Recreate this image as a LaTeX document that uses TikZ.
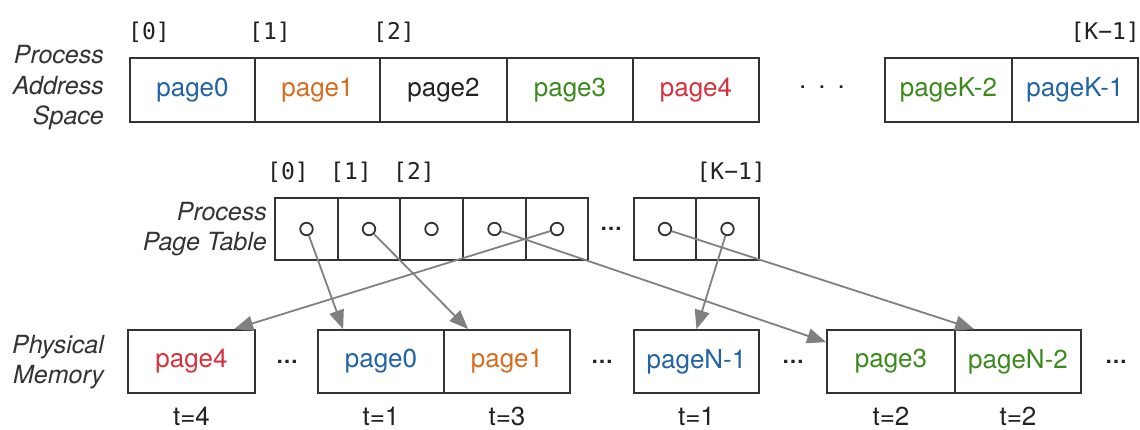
\documentclass[tikz,border=0pt]{standalone}
\usepackage{fontspec}
\setmainfont{TeX Gyre Heros}
\newfontfamily\monof{DejaVu Sans Mono}
\usetikzlibrary{arrows.meta}
\definecolor{pblue}{RGB}{33,99,165}
\definecolor{porange}{RGB}{214,108,32}
\definecolor{pred}{RGB}{214,50,62}
\definecolor{pgreen}{RGB}{60,137,30}
\definecolor{lineC}{RGB}{51,51,51}
\definecolor{arrowC}{RGB}{128,128,128}
\definecolor{txtC}{RGB}{34,34,34}
\begin{document}
\begin{tikzpicture}[x=1pt,y=-1pt,
  cell/.style={draw=lineC, line width=1.8pt, minimum height=64pt, inner sep=0pt,
               font=\fontsize{26}{30}\selectfont},
  ptcell/.style={draw=lineC, line width=1.8pt, minimum height=62pt, inner sep=0pt},
  circ/.style={circle, draw=lineC, line width=1.8pt, minimum size=12.5pt, inner sep=0pt},
  sidelab/.style={anchor=east, align=right, inner sep=0pt, text=lineC,
               font=\fontsize{25}{30.5}\selectfont\itshape},
  idx/.style={inner sep=0pt, text=txtC, font=\monof\fontsize{23}{26}\selectfont},
  tlab/.style={inner sep=0pt, text=txtC, font=\fontsize{26}{30}\selectfont},
  ell/.style={anchor=base, inner sep=0pt, text=txtC, font=\fontsize{22}{26}\selectfont\bfseries},
  arr/.style={draw=arrowC, line width=1.8pt, -{Triangle[length=19pt,width=15pt]}}
]
\useasboundingbox (0,0) rectangle (1140,430);

% ---------- Process address space ----------
\node[sidelab] (lasp) at (104,88) {Process\\Address\\Space};
\node[cell, minimum width=125pt, text=pblue]   (a0)  at (192.5,90) {page0};
\node[cell, minimum width=125pt, text=porange] (a1)  at (317.5,90) {page1};
\node[cell, minimum width=127pt, text=txtC]    (a2)  at (443.5,90) {page2};
\node[cell, minimum width=126pt, text=pgreen]  (a3)  at (570,90)   {page3};
\node[cell, minimum width=126pt, text=pred]    (a4)  at (696,90)   {page4};
\node[anchor=base, inner sep=0pt, text=txtC, font=\fontsize{26}{30}\selectfont]
      (adots) at (822,89) {.\hspace{12pt}.\hspace{12pt}.};
\node[cell, minimum width=127pt, text=pgreen]  (ak2) at (948.5,90) {pageK-2};
\node[cell, minimum width=126pt, text=pblue]   (ak1) at (1075,90)  {pageK-1};

\node[idx, anchor=west] (ia0) at (128,32) {[0]};
\node[idx, anchor=west] (ia1) at (249,32) {[1]};
\node[idx, anchor=west] (ia2) at (373,32) {[2]};
\node[idx, anchor=east] (iak) at (1140,32) {[K−1]};

% ---------- Process page table ----------
\node[sidelab] (lpt) at (267,229) {Process\\Page Table};
\node[ptcell, minimum width=63pt] (t0) at (306.5,229) {};
\node[ptcell, minimum width=62pt] (t1) at (369,229) {};
\node[ptcell, minimum width=63pt] (t2) at (431.5,229) {};
\node[ptcell, minimum width=63pt] (t3) at (494.5,229) {};
\node[ptcell, minimum width=62pt] (t4) at (557,229) {};
\node[ell] (tdots) at (611,231) {…};
\node[ptcell, minimum width=62pt] (tk2) at (665,229) {};
\node[ptcell, minimum width=63pt] (tk1) at (727.5,229) {};
\foreach \n in {0,1,2,3,4,k2,k1} {\node[circ] (c\n) at (t\n.center) {};}

\node[idx, anchor=west] (it0) at (267,172) {[0]};
\node[idx, anchor=west] (it1) at (330,172) {[1]};
\node[idx, anchor=west] (it2) at (393,172) {[2]};
\node[idx, anchor=east] (itk) at (766,172) {[K−1]};

% ---------- Physical memory ----------
\node[sidelab] (lpm) at (104,362) {Physical\\Memory};
\node[cell, minimum height=63pt, minimum width=127pt, text=pred]    (b4)  at (191.5,361.5) {page4};
\node[ell] (bdots1) at (287,363) {…};
\node[cell, minimum height=63pt, minimum width=126pt, text=pblue]   (b0)  at (381,361.5)   {page0};
\node[cell, minimum height=63pt, minimum width=126pt, text=porange] (b1)  at (507,361.5)   {page1};
\node[ell] (bdots2) at (602,363) {…};
\node[cell, minimum height=63pt, minimum width=125pt, text=pblue]   (bN1) at (696.5,361.5) {pageN-1};
\node[ell] (bdots3) at (793,363) {…};
\node[cell, minimum height=63pt, minimum width=128pt, text=pgreen]  (b3)  at (891,361.5)   {page3};
\node[cell, minimum height=63pt, minimum width=126pt, text=pgreen]  (bN2) at (1018,361.5)  {pageN-2};
\node[ell] (bdots4) at (1116,363) {…};

\node[tlab] (tt4)  at (191.5,416) {t=4};
\node[tlab] (tt0)  at (381,416)   {t=1};
\node[tlab] (tt1)  at (507,416)   {t=3};
\node[tlab] (ttN1) at (696.5,416) {t=1};
\node[tlab] (tt3)  at (891,416)   {t=2};
\node[tlab] (ttN2) at (1018,416)  {t=2};

% ---------- Mappings ----------
\draw[arr] (c0)  -- ([xshift=26pt]b0.north west);
\draw[arr] (c1)  -- ([xshift=25pt]b1.north west);
\draw[arr] (c4)  -- ([xshift=107pt]b4.north west);
\draw[arr] (c3)  -- ([yshift=-13pt]b3.north west);
\draw[arr] (ck2) -- ([xshift=20pt]bN2.north west);
\draw[arr] (ck1) -- (bN1.north);
\end{tikzpicture}
\end{document}
